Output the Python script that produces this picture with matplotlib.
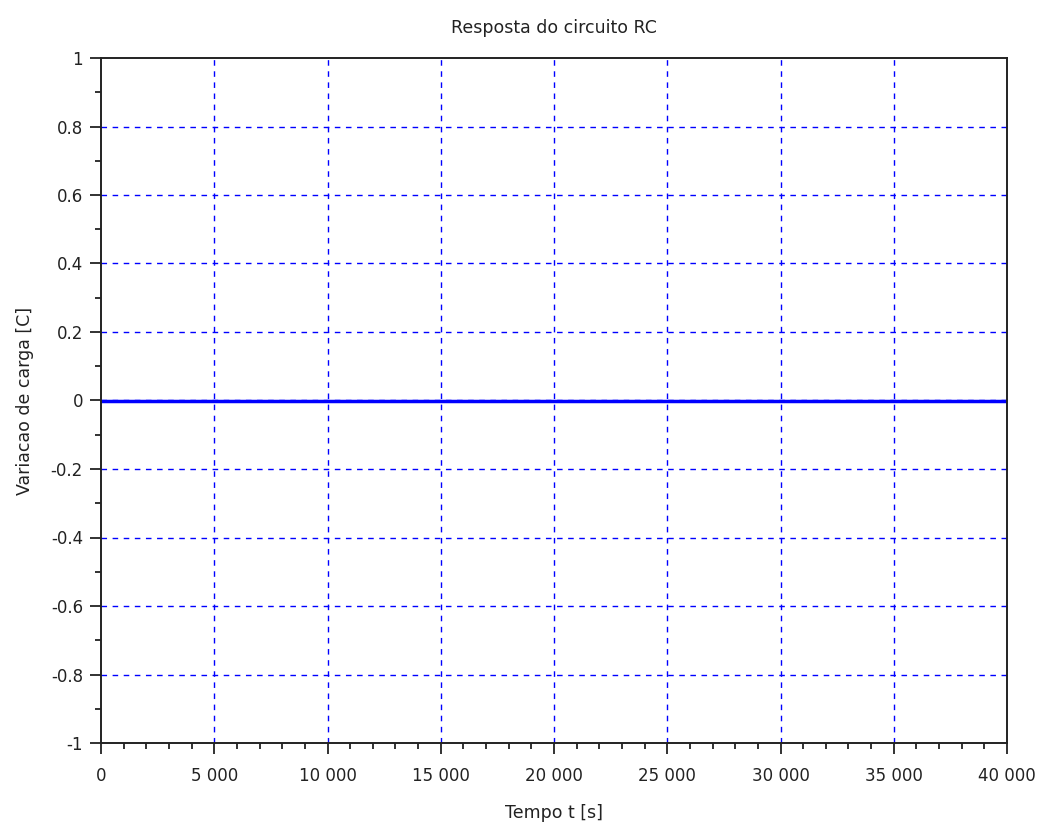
import matplotlib
matplotlib.use("Agg")
import matplotlib.pyplot as plt
from matplotlib.ticker import MultipleLocator, FuncFormatter

t = [0, 5000, 10000, 15000, 20000, 25000, 30000, 35000, 40000]
q = [0, 0, 0, 0, 0, 0, 0, 0, 0]
title = "Resposta do circuito RC"
xlabel = "Tempo t [s]"
ylabel = "Variacao de carga [C]"

plt.rcParams['font.family'] = ['DejaVu Sans']
fig = plt.figure(figsize=(10.43, 8.24), dpi=100)
ax = fig.add_axes([101/1043, 1 - 743/824, (1007-101)/1043, (743-58)/824])

ax.plot(t, q, color='#0000ff', linewidth=2.5, zorder=3)
ax.set_xlim(0, 40000)
ax.set_ylim(-1, 1)

ax.xaxis.set_major_locator(MultipleLocator(5000))
ax.xaxis.set_minor_locator(MultipleLocator(1000))
ax.yaxis.set_major_locator(MultipleLocator(0.2))
ax.yaxis.set_minor_locator(MultipleLocator(0.1))

def xfmt(v, pos):
    return f"{int(round(v)):,}".replace(",", " ")
def yfmt(v, pos):
    r = round(v, 1)
    if abs(r) < 1e-9:
        return "0"
    if r == int(r):
        return str(int(r))
    return f"{r:g}"
ax.xaxis.set_major_formatter(FuncFormatter(xfmt))
ax.yaxis.set_major_formatter(FuncFormatter(yfmt))

ax.tick_params(which='major', direction='out', length=8, width=1.3, labelsize=12, colors='#222222', pad=9)
ax.tick_params(which='minor', direction='out', length=4, width=1.3, colors='#222222')
ax.tick_params(axis='y', which='major', pad=5)
ax.tick_params(top=False, right=False)
for s in ax.spines.values():
    s.set_linewidth(1.4)
    s.set_color('#222222')
    s.set_zorder(4)

ax.grid(True, which='major', color='#0000ff', linestyle=(0, (4, 4)), linewidth=1.0)
ax.set_axisbelow(True)

ax.set_title(title, fontsize=12.5, pad=18, color='#222222')
ax.set_xlabel(xlabel, fontsize=12.5, labelpad=14, color='#222222')
ax.set_ylabel(ylabel, fontsize=12.5, labelpad=12, color='#222222')

fig.canvas.draw()
xl = ax.get_xlim(); yl = ax.get_ylim()
for tk in ax.xaxis.get_major_ticks():
    if tk.get_loc() is not None and (abs(tk.get_loc() - xl[0]) < 1e-6 or abs(tk.get_loc() - xl[1]) < 1e-6):
        tk.gridline.set_visible(False)
for tk in ax.yaxis.get_major_ticks():
    if tk.get_loc() is not None and (abs(tk.get_loc() - yl[0]) < 1e-9 or abs(tk.get_loc() - yl[1]) < 1e-9):
        tk.gridline.set_visible(False)

fig.savefig("out.png", dpi=100)
